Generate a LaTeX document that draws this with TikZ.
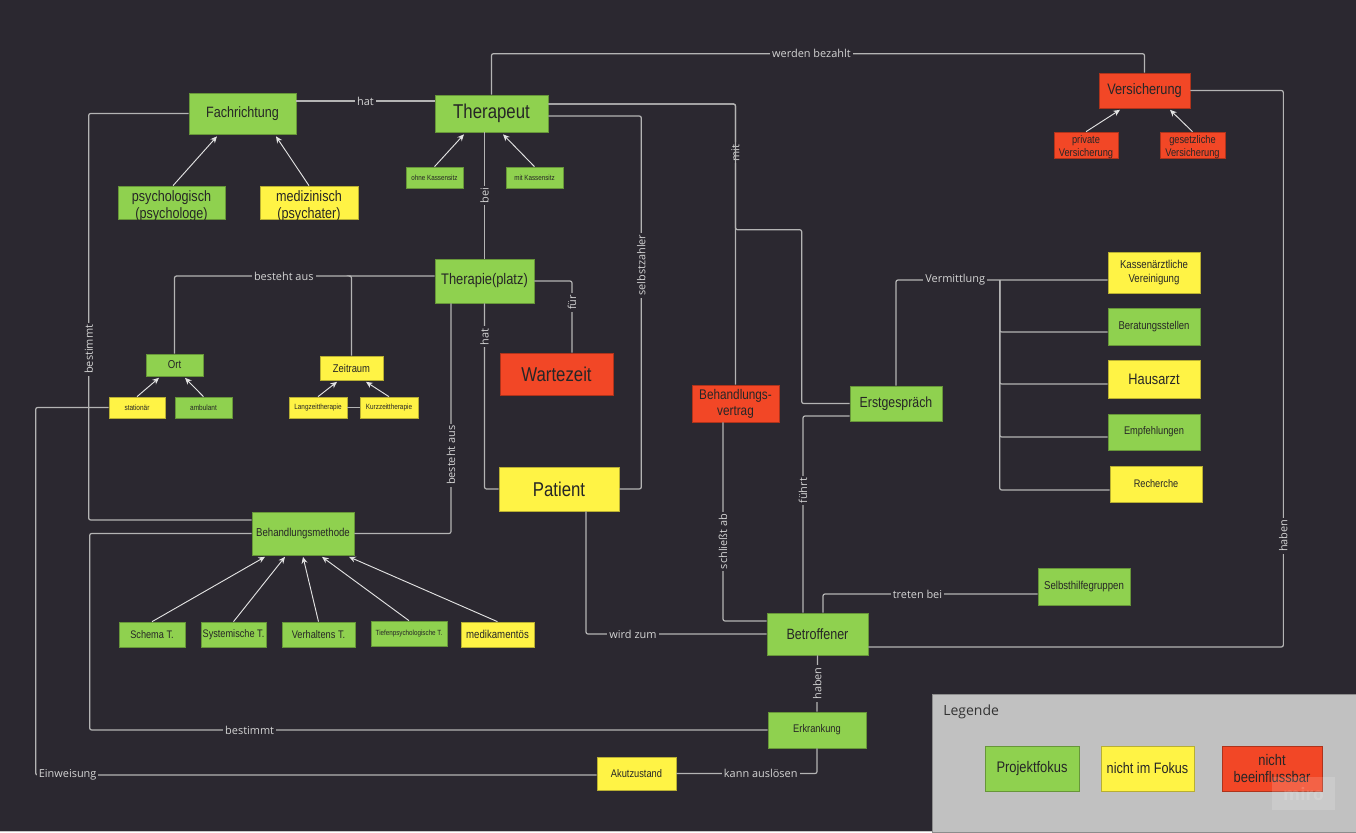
\documentclass[tikz,border=0pt]{standalone}
\usepackage{fontspec}
\usetikzlibrary{arrows.meta}
\newfontfamily\nf{Liberation Sans}[FakeStretch=0.84]
\newfontfamily\lf{Open Sans}
\definecolor{bg}{HTML}{2B2830}
\definecolor{wire}{HTML}{B4B4B4}
\definecolor{tipc}{HTML}{E2E2E2}
\definecolor{labc}{HTML}{D4D4D4}
\definecolor{gfill}{HTML}{8FD14F}
\definecolor{yfill}{HTML}{FFF345}
\definecolor{rfill}{HTML}{F24726}
\definecolor{legbg}{HTML}{C1C1C1}
\newcommand\fsz[1]{\fontsize{#1}{\fpeval{#1*1.15}}\selectfont}
% box: name, x1, y1, x2, y2, style, font size, text (pixel coordinates)
\newcommand\bx[8]{\node[#6, minimum width={(#4-#2)*0.75pt}, minimum height={(#5-#3)*0.75pt}, font=\nf\fsz{#7}] (#1) at ({(#2+#4)/2},{(#3+#5)/2}) {#8};}
\tikzset{
  box/.style={draw=#1!72!black, fill=#1, line width=0.5pt, inner sep=0pt, align=center, text=black!85},
  gbox/.style={box=gfill},
  ybox/.style={box=yfill},
  rbox/.style={box=rfill},
  con/.style={draw=wire, line width=0.9pt, rounded corners=1.5pt},
  arr/.style={draw=tipc, line width=0.7pt, -{Stealth[length=5pt,width=4.5pt]}},
  lab/.style={fill=bg, text=labc, font=\lf\fontsize{8.2}{9}\selectfont, inner sep=1.5pt, rounded corners=0pt},
  rlab/.style={lab, rotate=90},
}
\begin{document}
\begin{tikzpicture}[x=0.75pt, y=-0.75pt]
\useasboundingbox (0,0) rectangle (1356,832);
\fill[bg] (0,0) rectangle (1356,832);
\fill[black!22] (0,830.5) rectangle (1356,832);

% ---- top: specialisation, therapist, insurance
\bx{fach}{189}{93}{296}{134}{gbox}{11.25}{Fachrichtung}
\bx{ther}{435}{95}{548}{132}{gbox}{15}{Therapeut}
\bx{ohne}{406}{167}{463}{188}{gbox}{5.6}{ohne Kassensitz}
\bx{mitk}{506}{167}{563}{188}{gbox}{5.6}{mit Kassensitz}
\bx{psy}{118}{186}{225}{219}{gbox}{11.25}{}
\bx{med}{260}{186}{358}{219}{ybox}{11.25}{}
\begin{scope}
  \clip (psy.south west) rectangle (psy.north east);
  \node[font=\nf\fontsize{11.25}{12.6}\selectfont, align=center, text=black!85] (psyT) at (171.5,206) {psychologisch\\(psychologe)};
\end{scope}
\begin{scope}
  \clip (med.south west) rectangle (med.north east);
  \node[font=\nf\fontsize{11.25}{12.6}\selectfont, align=center, text=black!85] (medT) at (309,206) {medizinisch\\(psychater)};
\end{scope}
\bx{vers}{1099}{73}{1190}{108}{rbox}{11.4}{Versicherung}
\bx{priv}{1054}{132}{1118}{158}{rbox}{8.3}{}
\bx{gesv}{1160}{132}{1225}{158}{rbox}{8.3}{}
\begin{scope}
  \clip (priv.south west) rectangle (priv.north east);
  \node[font=\nf\fontsize{8.3}{9.8}\selectfont, align=center, text=black!85] (privT) at (1086,147) {private\\Versicherung};
\end{scope}
\begin{scope}
  \clip (gesv.south west) rectangle (gesv.north east);
  \node[font=\nf\fontsize{8.3}{9.8}\selectfont, align=center, text=black!85] (gesvT) at (1192.5,147) {gesetzliche\\Versicherung};
\end{scope}

% ---- therapy place and its parts
\bx{tplatz}{435}{259}{534}{303}{gbox}{11.5}{Therapie(platz)}
\bx{ort}{146}{354}{203}{376}{gbox}{8.6}{Ort}
\bx{zeit}{320}{356}{383}{380}{ybox}{8.4}{Zeitraum}
\bx{stat}{109}{397}{165}{418}{ybox}{5.8}{stationär}
\bx{amb}{175}{397}{232}{418}{gbox}{5.8}{ambulant}
\bx{lang}{289}{397}{347}{418}{ybox}{5.7}{Langzeittherapie}
\bx{kurz}{360}{397}{418}{418}{ybox}{5.7}{Kurzzeittherapie}
\bx{wart}{500}{353}{613}{395}{rbox}{15}{Wartezeit}
\bx{pat}{499}{467}{619}{511}{ybox}{15}{Patient}

% ---- first contact and referral
\bx{bvert}{692}{385}{779}{422}{rbox}{10.5}{Behandlungs-\\vertrag}
\bx{erst}{850}{386}{942}{421}{gbox}{11}{Erstgespräch}
\bx{kv}{1108}{252}{1200}{293}{ybox}{8.6}{Kassenärztliche\\Vereinigung}
\bx{bera}{1108}{308}{1200}{345}{gbox}{8.5}{Beratungsstellen}
\bx{haus}{1108}{360}{1200}{398}{ybox}{11.4}{Hausarzt}
\bx{empf}{1108}{414}{1200}{450}{gbox}{8.3}{Empfehlungen}
\bx{rech}{1110}{466}{1202}{502}{ybox}{8.2}{Recherche}

% ---- treatment methods
\bx{bmeth}{252}{512}{354}{555}{gbox}{8.6}{Behandlungsmethode}
\bx{schema}{119}{622}{185}{647}{gbox}{8.2}{Schema T.}
\bx{syst}{201}{622}{266}{647}{gbox}{8.2}{Systemische T.}
\bx{verh}{282}{622}{355}{647}{gbox}{8.25}{Verhaltens T.}
\bx{tief}{371}{621}{447}{646}{gbox}{5.6}{Tiefenpsychologische T.}
\bx{medik}{461}{622}{534}{647}{ybox}{8.6}{medikamentös}

% ---- affected person
\bx{betr}{767}{613}{868}{655}{gbox}{11.2}{Betroffener}
\bx{selbst}{1038}{568}{1130}{605}{gbox}{8.6}{Selbsthilfegruppen}
\bx{erkr}{768}{712}{866}{748}{gbox}{8.3}{Erkrankung}
\bx{akut}{597}{757}{676}{790}{ybox}{8.3}{Akutzustand}

% ---- connectors
\draw[con] ([shift={(0,-12.5)}]fach.east) -- node[lab]{hat} ([shift={(0,-12.5)}]ther.west);
\draw[con] (ther.north) -- ++(0,-41) -| node[lab, pos=0.245]{werden bezahlt} (vers.north);
\draw[con] ([shift={(0,-9.5)}]ther.east) -| node[rlab, pos=0.587]{mit} (bvert.north);
\draw[con] ([shift={(0,-9.5)}]ther.east) -| ([shift={(0,-155)}]bvert.north) -| ([shift={(-48,0)}]erst.west) -- (erst.west);
\draw[con] ([shift={(0,2.5)}]ther.east) -| node[rlab, pos=0.7]{selbstzahler} ([shift={(22,0)}]pat.east) -- (pat.east);
\draw[con] (tplatz.north |- ther.south) -- node[rlab]{bei} (tplatz.north);
\draw[con] (fach.west) -| node[rlab, pos=0.79]{bestimmt} ([shift={(-163,-13.5)}]bmeth.west) -- ([shift={(0,-13.5)}]bmeth.west);
\draw[con] ([shift={(0,-5)}]tplatz.west) -| node[lab, pos=0.29]{besteht aus} (ort.north);
\draw[con] ([shift={(-84,-5)}]tplatz.west) -| (zeit.north);
\draw[con] (tplatz.east) -| node[rlab, pos=0.65]{für} ([shift={(15.5,0)}]wart.north);
\draw[con] (tplatz.south) |- node[rlab, pos=0.09]{hat} (pat.west);
\draw[con] ([shift={(-33.5,0)}]tplatz.south) |- node[rlab, pos=0.33]{besteht aus} (bmeth.east);
\draw[con] (stat.west) -| ([shift={(-561,1.5)}]akut.west) -- node[lab, pos=0.057]{Einweisung} ([shift={(0,1.5)}]akut.west);
\draw[con] (bmeth.west) -| ([shift={(-678,0)}]erkr.west) -- node[lab, pos=0.236]{bestimmt} (erkr.west);
\draw[con] (lang.east) -- (kurz.west);
\draw[con] ([shift={(27,0)}]pat.south) |- node[lab, pos=0.63]{wird zum} (betr.west);
\draw[con] ([shift={(-12.5,0)}]bvert.south) |- node[rlab, pos=0.3]{schließt ab} ([shift={(0,-13)}]betr.west);
\draw[con] ([shift={(0,12.5)}]erst.west) -| node[rlab, pos=0.69]{führt} ([shift={(-14.5,0)}]betr.north);
\draw[con] (erst.north) |- node[lab, pos=0.64]{Vermittlung} ([shift={(0,7.5)}]kv.west);
\draw[con] ([shift={(-108,7.5)}]kv.west) |- ([shift={(0,5.5)}]bera.west);
\draw[con] ([shift={(-108,7.5)}]kv.west) |- ([shift={(0,5)}]haus.west);
\draw[con] ([shift={(-108,7.5)}]kv.west) |- ([shift={(0,5)}]empf.west);
\draw[con] ([shift={(-108,7.5)}]kv.west) |- ([shift={(0,6)}]rech.west);
\draw[con] ([shift={(5.5,0)}]betr.north) |- node[lab, pos=0.72]{treten bei} ([shift={(0,7.5)}]selbst.west);
\draw[con] ([shift={(0,13)}]betr.east) -| node[rlab, pos=0.6]{haben} ([shift={(93,0)}]vers.east) -- (vers.east);
\draw[con] (betr.south) -- node[rlab]{haben} (erkr.north);
\draw[con] (erkr.south) |- node[lab, pos=0.7]{kann auslösen} (akut.east);

% ---- arrows (sub-types point to their parent)
\draw[arr] ([shift={(1.5,0)}]psy.north) -- ([shift={(-25.5,2)}]fach.south);
\draw[arr] (med.north) -- ([shift={(33.5,2)}]fach.south);
\draw[arr] (ohne.north) -- ([shift={(-27.5,2)}]ther.south);
\draw[arr] (mitk.north) -- ([shift={(11.5,2)}]ther.south);
\draw[arr] (priv.north) -- ([shift={(-24.5,1.5)}]vers.south);
\draw[arr] (gesv.north) -- ([shift={(25.5,1.5)}]vers.south);
\draw[arr] (stat.north) -- ([shift={(-15.5,1.5)}]ort.south);
\draw[arr] (amb.north) -- ([shift={(10.5,1.5)}]ort.south);
\draw[arr] (lang.north) -- ([shift={(-14.5,1.5)}]zeit.south);
\draw[arr] (kurz.north) -- ([shift={(14.5,1.5)}]zeit.south);
\draw[arr] (schema.north) -- ([shift={(-38,1.5)}]bmeth.south);
\draw[arr] (syst.north) -- ([shift={(-18,1.5)}]bmeth.south);
\draw[arr] (verh.north) -- ([shift={(0,1.5)}]bmeth.south);
\draw[arr] (tief.north) -- ([shift={(19,1.5)}]bmeth.south);
\draw[arr] (medik.north) -- ([shift={(46,1.5)}]bmeth.south);

% ---- legend
\node[draw=black!45, fill=legbg, line width=0.6pt, minimum width={424*0.75pt}, minimum height={138*0.75pt}, inner sep=0pt] (legend) at (1144,763) {};
\node[anchor=west, font=\lf\fontsize{10.5}{12}\selectfont, text=black!80, inner sep=0pt] (legT) at (943,712) {Legende};
\bx{lp}{985}{746}{1079}{791}{gbox}{11.5}{Projektfokus}
\bx{ln}{1101}{746}{1194}{791}{ybox}{11.3}{nicht im Fokus}
\bx{lr}{1222}{746}{1322}{791}{rbox}{11.5}{nicht\\beeinflussbar}
\node[fill=white, fill opacity=0.15, text opacity=0.15, text=white, minimum width={63*0.75pt}, minimum height={33*0.75pt}, inner sep=0pt, font=\lf\bfseries\fontsize{13}{14}\selectfont] (wm) at (1303.5,793.5) {miro};
\end{tikzpicture}
\end{document}
